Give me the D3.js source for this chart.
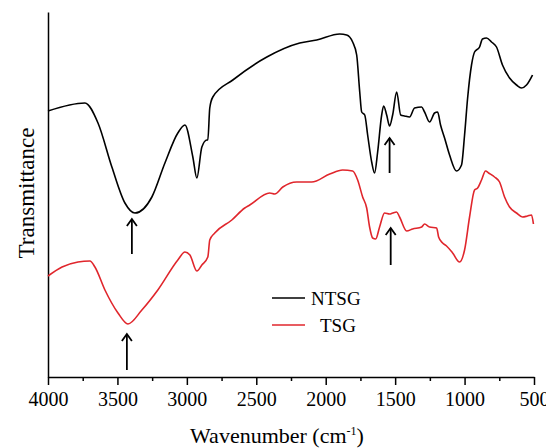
<!DOCTYPE html>
<html>
<head>
<meta charset="utf-8">
<script src="https://cdn.jsdelivr.net/npm/d3@7"></script>
<style>
  body { margin: 0; background: #fff; }
  text { font-family: "Liberation Serif", "Times New Roman", serif; }
</style>
</head>
<body>
<svg id="chart"></svg>
<script>
// wavenumber (cm-1) and transmittance (a.u.)
var ntsgWn = [4000, 3734, 3640, 3540, 3446, 3374, 3252, 3158, 3065, 3014, 2957, 2928, 2892, 2856, 2849, 2835, 2813,
  2669, 2424, 2187, 2065, 1899, 1849, 1806, 1777, 1755, 1741, 1719, 1698, 1669, 1648, 1626, 1597, 1583, 1561,
  1540, 1518, 1489, 1460, 1432, 1396, 1360, 1309, 1288, 1252, 1216, 1194, 1173, 1144, 1108, 1058, 1022, 1000,
  978, 950, 928, 892, 871, 842, 806, 770, 727, 676, 626, 590, 554, 511];
var ntsgT = [266, 274, 254, 210, 174, 164, 180, 214, 244, 252, 220, 199, 230, 237, 237, 269, 280,
  297, 320, 334, 337, 343, 342, 335, 322, 285, 265, 262, 242, 215, 204, 225, 262, 271, 262,
  251, 262, 285, 262, 261, 260, 269, 270, 265, 255, 264, 265, 252, 239, 222, 206, 212, 242,
  279, 312, 325, 330, 338, 339, 335, 330, 312, 299, 292, 289, 292, 302];

var tsgWn = [4000, 3899, 3784, 3698, 3662, 3590, 3496, 3424, 3324, 3209, 3065, 3014, 2978, 2928, 2892, 2849, 2835,
  2799, 2676, 2583, 2547, 2403, 2367, 2309, 2209, 2101, 1971, 1878, 1806, 1770, 1734, 1705, 1684, 1662, 1640,
  1612, 1576, 1540, 1518, 1489, 1468, 1417, 1374, 1309, 1288, 1252, 1201, 1187, 1158, 1130, 1086, 1036, 1000,
  964, 928, 906, 878, 849, 827, 784, 748, 712, 676, 626, 583, 547, 518, 504];
var tsgT = [101, 110, 115, 116, 110, 87, 64, 53, 67, 87, 117, 125, 122, 106, 112, 120, 137,
  144, 157, 169, 172, 184, 183, 190, 195, 195, 203, 207, 206, 197, 180, 169, 150, 139, 138,
  150, 164, 163, 164, 165, 160, 146, 148, 150, 153, 150, 149, 140, 134, 131, 124, 115, 127,
  160, 187, 189, 197, 206, 204, 200, 195, 180, 170, 164, 160, 161, 162, 153];

var xTicks = [4000, 3500, 3000, 2500, 2000, 1500, 1000, 500];
var xMinorTicks = [3750, 3250, 2750, 2250, 1750, 1250, 750];

// arrows: wavenumber, tail and head transmittance
var arrowWn = [3396, 1540, 3432, 1532];
var arrowFrom = [123, 204, 7, 112];
var arrowTo = [158, 239, 43, 149];

var seriesNames = ["NTSG", "TSG"];
var seriesColors = ["#000000", "#e0262c"];

var margin = { top: 12, right: 12, bottom: 71, left: 48 },
  width = 546 - margin.left - margin.right,
  height = 448 - margin.top - margin.bottom;

var x = d3.scaleLinear().domain([4000, 500]).range([0, width]);
var y = d3.scaleLinear().domain([0, 365]).range([height, 0]);

var svg = d3.select("#chart")
  .attr("width", 546)
  .attr("height", 448)
  .append("g")
  .attr("transform", "translate(" + margin.left + "," + margin.top + ")");

// x axis
var xAxis = d3.axisBottom(x).tickValues(xTicks).tickSize(8).tickSizeOuter(0).tickFormat(d3.format("d"));
var gx = svg.append("g")
  .attr("transform", "translate(0," + height + ")")
  .call(xAxis)
  .attr("font-family", "Liberation Serif, serif");
gx.selectAll("text")
  .style("font-family", "'Liberation Serif', serif")
  .style("font-size", "20px")
  .attr("fill", "#000").attr("dy", "0.95em").attr("y", 10);
gx.selectAll("line").attr("stroke-width", 1.5);
gx.select(".domain").attr("stroke-width", 1.5);

var gxm = svg.append("g")
  .attr("transform", "translate(0," + height + ")")
  .call(d3.axisBottom(x).tickValues(xMinorTicks).tickSize(4).tickSizeOuter(0).tickFormat(""));
gxm.select(".domain").remove();
gxm.selectAll("line").attr("stroke-width", 1.5);

// y axis line only
var gy = svg.append("g").call(d3.axisLeft(y).tickValues([]).tickSizeOuter(0));
gy.select(".domain").attr("stroke-width", 1.5);

// labels
svg.append("text")
  .attr("x", 229)
  .attr("y", height + 66)
  .attr("text-anchor", "middle")
  .style("font-size", "22px")
  .text("Wavenumber (cm")
  .append("tspan").attr("dy", -8).style("font-size", "12px").text("-1")
  .select(function () { return this.parentNode; })
  .append("tspan").attr("dy", 8).style("font-size", "22px").text(")");

svg.append("text")
  .attr("transform", "translate(-22," + (193 - margin.top) + ") rotate(-90)")
  .attr("text-anchor", "middle")
  .attr("dy", "0.35em")
  .style("font-size", "23px")
  .text("Transmittance");

// spectra
var line = d3.line()
  .x(function (d) { return x(d[0]); })
  .y(function (d) { return y(d[1]); })
  .curve(d3.curveMonotoneX);

var series = [d3.zip(ntsgWn, ntsgT), d3.zip(tsgWn, tsgT)];
series.forEach(function (s, i) {
  svg.append("path")
    .datum(s)
    .attr("fill", "none")
    .attr("stroke", seriesColors[i])
    .attr("stroke-width", 1.6)
    .attr("stroke-linejoin", "round")
    .attr("d", line);
});

// arrows
arrowWn.forEach(function (wn, i) {
  var ax = x(wn), y0 = y(arrowFrom[i]), y1 = y(arrowTo[i]);
  svg.append("line")
    .attr("x1", ax).attr("x2", ax).attr("y1", y0).attr("y2", y1)
    .attr("stroke", "#000").attr("stroke-width", 1.8);
  svg.append("path")
    .attr("d", "M" + (ax - 5) + "," + (y1 + 7) + "L" + ax + "," + y1 + "L" + (ax + 5) + "," + (y1 + 7))
    .attr("fill", "none").attr("stroke", "#000").attr("stroke-width", 1.8);
});

// legend
var legend = svg.append("g").attr("transform", "translate(224,286)");
seriesNames.forEach(function (name, i) {
  legend.append("line")
    .attr("x1", 0).attr("x2", 33)
    .attr("y1", i * 27).attr("y2", i * 27)
    .attr("stroke", seriesColors[i]).attr("stroke-width", 1.5);
  legend.append("text")
    .attr("x", i === 0 ? 39 : 48)
    .attr("y", i * 27)
    .attr("dy", "0.35em")
    .style("font-size", "19px")
    .text(name);
});
</script>
</body>
</html>
